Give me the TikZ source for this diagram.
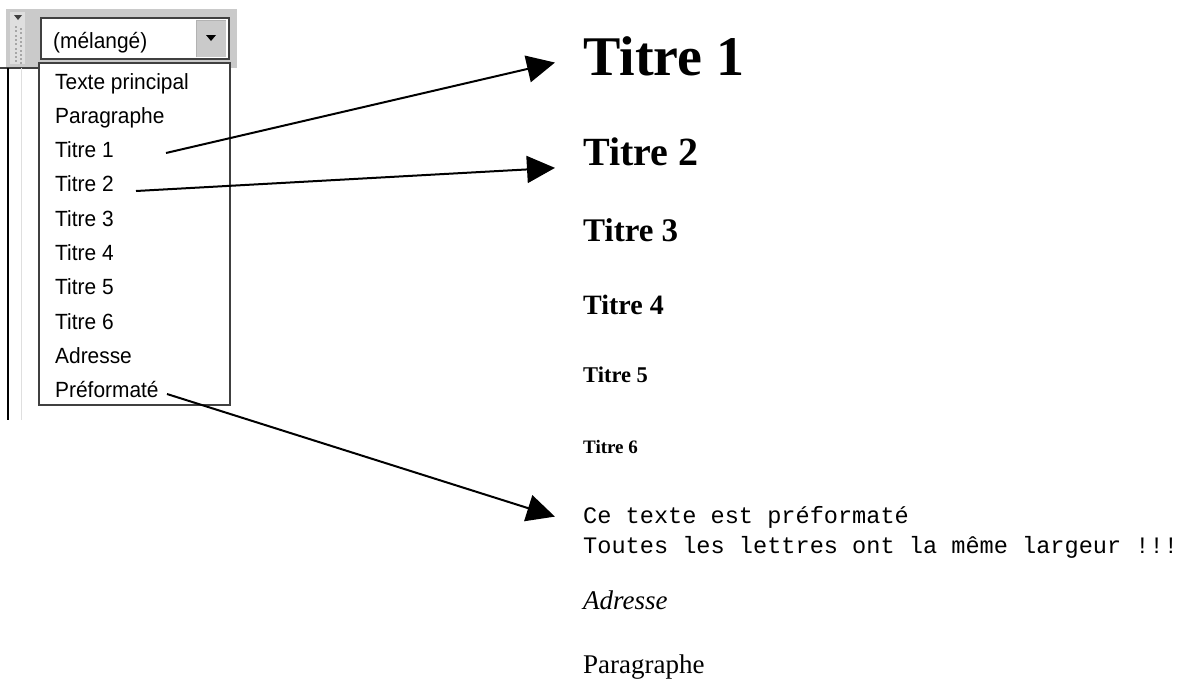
\documentclass[tikz,border=0pt]{standalone}
\usepackage{fontspec}
\setmainfont{Liberation Serif}
\setmonofont{Liberation Mono}
\newfontfamily\uifont[FakeStretch=0.95]{Liberation Sans}
\usetikzlibrary{arrows.meta}
\definecolor{facegray}{HTML}{CACACA}
\definecolor{edgegray}{HTML}{404040}
\tikzset{
  item/.style={anchor=base west, inner sep=0pt, font=\uifont\fontsize{22}{24}\selectfont},
  sample/.style={anchor=base west, inner sep=0pt},
  pointer/.style={line width=2pt, -{Triangle[length=28pt,width=27pt]}, shorten >=-2pt},
}
\begin{document}
\begin{tikzpicture}[x=1pt, y=-1pt]
\useasboundingbox (0,0) rectangle (1189,680);

% toolbar band with its grip
\fill[facegray] (5,8) rectangle (237,68);
\draw[white, line width=1pt] (5.5,68) -- (5.5,8.5) -- (237,8.5);
\draw[edgegray, line width=1.5pt] (0,68) -- (38,68);
\fill[gray!25] (10,12) rectangle (25,64);
\fill[black!75] (14,15) -- (22,15) -- (18,20) -- cycle;
\foreach \r in {0,...,8} {
  \fill[gray!70] (15,{26+4.3*\r}) rectangle +(2,2);
  \fill[gray!70] (20,{28+4.3*\r}) rectangle +(2,2);
}

% left window frame below the toolbar
\draw[black, line width=2.5pt] (8,68) -- (8,420);
\draw[gray!25, line width=1pt] (21,68) -- (21,420);

% combo box with its drop-down button
\draw[edgegray, fill=white, line width=2pt] (41,18) rectangle (229,59);
\fill[facegray] (196,20) rectangle (226,57);
\draw[gray!60, line width=1pt] (196.5,57) -- (196.5,20.5) -- (226,20.5);
\fill[black] (206,35) -- (216,35) -- (211,41) -- cycle;
\node[item] (combo) at (53,48) {(mélangé)};

% drop-down list
\draw[edgegray, fill=white, line width=2pt] (39,63) rectangle (230,405);
\foreach \n/\t [count=\i from 0] in {
  texte/Texte principal, para/Paragraphe, t1/Titre 1, t2/Titre 2,
  t3/Titre 3, t4/Titre 4, t5/Titre 5, t6/Titre 6,
  adr/Adresse, pre/Préformaté} {
  \node[item] (l-\n) at (55,{89+34.3*\i}) {\t};
}

% rendered samples of each style
\node[sample, font=\bfseries\fontsize{56}{60}\selectfont] (h1) at (583,75) {Titre 1};
\node[sample, font=\bfseries\fontsize{40}{44}\selectfont] (h2) at (583,165) {Titre 2};
\node[sample, font=\bfseries\fontsize{33}{36}\selectfont] (h3) at (583,241) {Titre 3};
\node[sample, font=\bfseries\fontsize{28}{32}\selectfont] (h4) at (583,314) {Titre 4};
\node[sample, font=\bfseries\fontsize{22.5}{26}\selectfont] (h5) at (583,382) {Titre 5};
\node[sample, font=\bfseries\fontsize{19}{22}\selectfont] (h6) at (583,453) {Titre 6};
\node[sample, font=\ttfamily\fontsize{23.6}{30}\selectfont] (pre1) at (583,523) {Ce texte est préformaté};
\node[sample, font=\ttfamily\fontsize{23.6}{30}\selectfont] (pre2) at (583,553) {Toutes les lettres ont la même largeur !!!};
\node[sample, font=\itshape\fontsize{27}{30}\selectfont] (addr) at (583,609) {Adresse};
\node[sample, font=\fontsize{27}{30}\selectfont] (par) at (583,673) {Paragraphe};

% pointers from list entries to their samples
\coordinate (from1) at (166,153);
\coordinate (to1) at (553,63);
\coordinate (from2) at (136,191);
\coordinate (to2) at (553,168);
\coordinate (from3) at (167,394);
\coordinate (to3) at (553,516);
\draw[pointer] (from1) -- (to1);
\draw[pointer] (from2) -- (to2);
\draw[pointer] (from3) -- (to3);
\end{tikzpicture}
\end{document}
